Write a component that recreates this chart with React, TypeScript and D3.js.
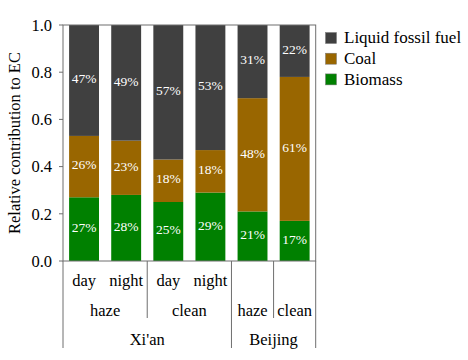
import React from "react";
import * as d3 from "d3";

const bars = ["day", "night", "day", "night", "haze", "clean"];
const conditions = [
  { label: "haze", start: 0, end: 2 },
  { label: "clean", start: 2, end: 4 },
  { label: "haze", start: 4, end: 5 },
  { label: "clean", start: 5, end: 6 },
];
const cities = [
  { label: "Xi'an", start: 0, end: 4 },
  { label: "Beijing", start: 4, end: 6 },
];
const biomass = [27, 28, 25, 29, 21, 17];
const coal = [26, 23, 18, 18, 48, 61];
const liquid = [47, 49, 57, 53, 31, 22];
const seriesNames = ["Biomass", "Coal", "Liquid fossil fuel"];
const seriesColors = ["#008000", "#996600", "#404040"];
const yTicks = [0, 0.2, 0.4, 0.6, 0.8, 1.0];

const FONT = "Liberation Serif, serif";
const T = (props: any) => <text {...props} style={{ fontFamily: FONT }} />;

export default function App() {
  const W = 468, H = 360;
  const left = 63, right = 315.7, top = 25, bottom = 261;
  const x = d3.scaleBand<number>().domain(d3.range(bars.length)).range([left, right]).paddingInner(0.29).paddingOuter(0.145);
  const y = d3.scaleLinear().domain([0, 1]).range([bottom, top]);
  const step = x.step();
  const edge = (i: number) => left + i * step;
  const series = [biomass, coal, liquid];
  const lineColor = "#6e6e6e";

  const segs: any[] = [];
  bars.forEach((_, i) => {
    let acc = 0;
    series.forEach((s, k) => {
      const v = s[i] / 100;
      segs.push({ i, k, y0: acc, y1: acc + v, v: s[i] });
      acc += v;
    });
  });

  const sep: { xv: number; y2: number }[] = [
    { xv: edge(0), y2: 348 },
    { xv: edge(2), y2: 318 },
    { xv: edge(4), y2: 348 },
    { xv: edge(5), y2: 318 },
    { xv: edge(6), y2: 348 },
  ];

  return (
    <svg width={W} height={H} style={{ position: "absolute", left: 0, top: 0, background: "#fff", fontFamily: FONT }}>
      {segs.map((d, j) => (
        <g key={j}>
          <rect x={x(d.i)} width={x.bandwidth()} y={y(d.y1)} height={y(d.y0) - y(d.y1)} fill={seriesColors[d.k]} />
          <T x={x(d.i)! + x.bandwidth() / 2} y={(y(d.y0) + y(d.y1)) / 2 - 2} dy="0.35em" textAnchor="middle" fill="#fff" fontSize={13.5}>
            {d.v}%
          </T>
        </g>
      ))}
      <rect x={left} y={top} width={right - left} height={bottom - top} fill="none" stroke={lineColor} strokeWidth={1} />
      {yTicks.map((t) => (
        <g key={t}>
          <line x1={left - 4} x2={left} y1={y(t)} y2={y(t)} stroke={lineColor} />
          <T x={52} y={y(t)} dy="0.35em" textAnchor="end" fontSize={16.5} fill="#000">
            {t.toFixed(1)}
          </T>
        </g>
      ))}
      {sep.map((s, j) => (
        <line key={j} x1={s.xv} x2={s.xv} y1={bottom} y2={s.y2} stroke={lineColor} />
      ))}
      {bars.map((b, i) =>
        i < 4 ? (
          <T key={i} x={x(i)! + x.bandwidth() / 2} y={286} textAnchor="middle" fontSize={16.5}>
            {b}
          </T>
        ) : null
      )}
      {conditions.map((c, j) => (
        <T key={j} x={(edge(c.start) + edge(c.end)) / 2} y={315.5} textAnchor="middle" fontSize={16.5}>
          {c.label}
        </T>
      ))}
      {cities.map((c, j) => (
        <T key={j} x={(edge(c.start) + edge(c.end)) / 2} y={344.5} textAnchor="middle" fontSize={16.5}>
          {c.label}
        </T>
      ))}
      <T transform={`translate(20,${(top + bottom) / 2}) rotate(-90)`} textAnchor="middle" fontSize={16.5}>
        Relative contribution to EC
      </T>
      {[2, 1, 0].map((k, j) => (
        <g key={k} transform={`translate(325.5,${32.5 + j * 20.7})`}>
          <rect width={11} height={11} fill={seriesColors[k]} stroke="#777" strokeWidth={0.5} />
          <T x={18.5} y={10.8} fontSize={17}>
            {seriesNames[k]}
          </T>
        </g>
      ))}
    </svg>
  );
}
